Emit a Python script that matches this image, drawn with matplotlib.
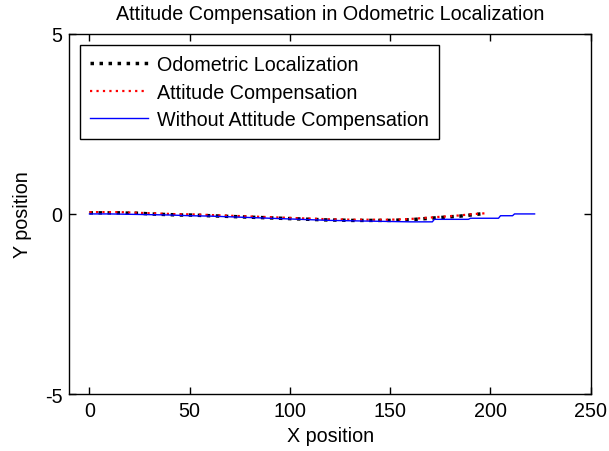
import matplotlib
matplotlib.use("Agg")
import matplotlib.pyplot as plt

plt.rcParams['font.family'] = ['Liberation Sans', 'DejaVu Sans']
plt.rcParams['axes.unicode_minus'] = False

title = "Attitude Compensation in Odometric Localization"
xlabel = "X position"
ylabel = "Y position"
labels = ["Odometric Localization", "Attitude Compensation", "Without Attitude Compensation"]

odo_x = [0, 5, 10, 15, 20, 25, 30, 35, 40, 45, 50, 55, 60, 65, 70, 75, 80, 85, 90, 95,
         100, 105, 110, 115, 120, 125, 130, 135, 140, 145, 150, 155, 160, 165, 170, 175,
         180, 185, 190, 195]
odo_y = [0.03, 0.03, 0.03, 0.03, 0.02, 0.02, 0.0, -0.01, -0.02, -0.03, -0.03, -0.04, -0.05,
         -0.06, -0.07, -0.08, -0.09, -0.1, -0.11, -0.12, -0.13, -0.14, -0.15, -0.16, -0.17,
         -0.17, -0.18, -0.18, -0.18, -0.18, -0.18, -0.17, -0.16, -0.14, -0.12, -0.1, -0.08,
         -0.06, -0.03, 0.0]

att_x = [0, 5, 10, 15, 20, 25, 30, 35, 40, 45, 50, 55, 60, 65, 70, 75, 80, 85, 90, 95,
         100, 105, 110, 115, 120, 125, 130, 135, 140, 145, 150, 155, 160, 165, 170, 175,
         180, 185, 190, 198]
att_y = [0.05, 0.05, 0.05, 0.05, 0.04, 0.03, 0.02, 0.01, 0.0, -0.01, -0.01, -0.02, -0.03,
         -0.04, -0.05, -0.06, -0.07, -0.08, -0.09, -0.1, -0.11, -0.12, -0.13, -0.14, -0.15,
         -0.15, -0.16, -0.16, -0.16, -0.16, -0.16, -0.15, -0.14, -0.12, -0.1, -0.08, -0.06,
         -0.04, -0.01, 0.02]

wo_x = [0, 10, 20, 30, 40, 50, 60, 70, 80, 90, 100, 110, 120, 130, 140, 150, 160, 171,
        172, 189, 190, 204, 205, 211, 212, 222]
wo_y = [0.0, 0.0, -0.01, -0.02, -0.03, -0.05, -0.06, -0.08, -0.1, -0.12, -0.14, -0.16,
        -0.18, -0.19, -0.2, -0.21, -0.22, -0.22, -0.15, -0.15, -0.12, -0.12, -0.05, -0.05,
        0.0, 0.0]

xticks = [0, 50, 100, 150, 200, 250]
yticks = [-5, 0, 5]

fs = 14.2

fig = plt.figure(figsize=(6.09, 4.52), dpi=100)
ax = fig.add_axes([0.114, 0.126, 0.856, 0.797])

ax.plot(odo_x, odo_y, color='black', linewidth=2.5, linestyle=(0, (1.0, 1.6)),
        dash_capstyle='butt', label=labels[0])
ax.plot(att_x, att_y, color='red', linewidth=1.6, linestyle=(0, (1.0, 1.9)),
        dash_capstyle='butt', label=labels[1])
ax.plot(wo_x, wo_y, color='blue', linewidth=1.0, linestyle='-', label=labels[2])

ax.set_xlim(-10, 250)
ax.set_ylim(-5, 5)
ax.set_xticks(xticks)
ax.set_yticks(yticks)
ax.tick_params(direction='in', length=5, width=1, top=True, right=True, labelsize=fs, pad=5)
for s in ax.spines.values():
    s.set_linewidth(1.0)

ax.set_title(title, fontsize=fs, pad=11)
ax.set_xlabel(xlabel, fontsize=fs, labelpad=4)
ax.set_ylabel(ylabel, fontsize=fs, labelpad=9)

leg = ax.legend(loc='upper left', bbox_to_anchor=(0.020, 0.969), fontsize=fs,
                handlelength=2.95, handletextpad=0.45,
                labelspacing=0.43, borderpad=0.52, fancybox=False, framealpha=1,
                edgecolor='black', borderaxespad=0.0)
leg.get_frame().set_linewidth(1.0)

fig.savefig("out.png", dpi=100)
